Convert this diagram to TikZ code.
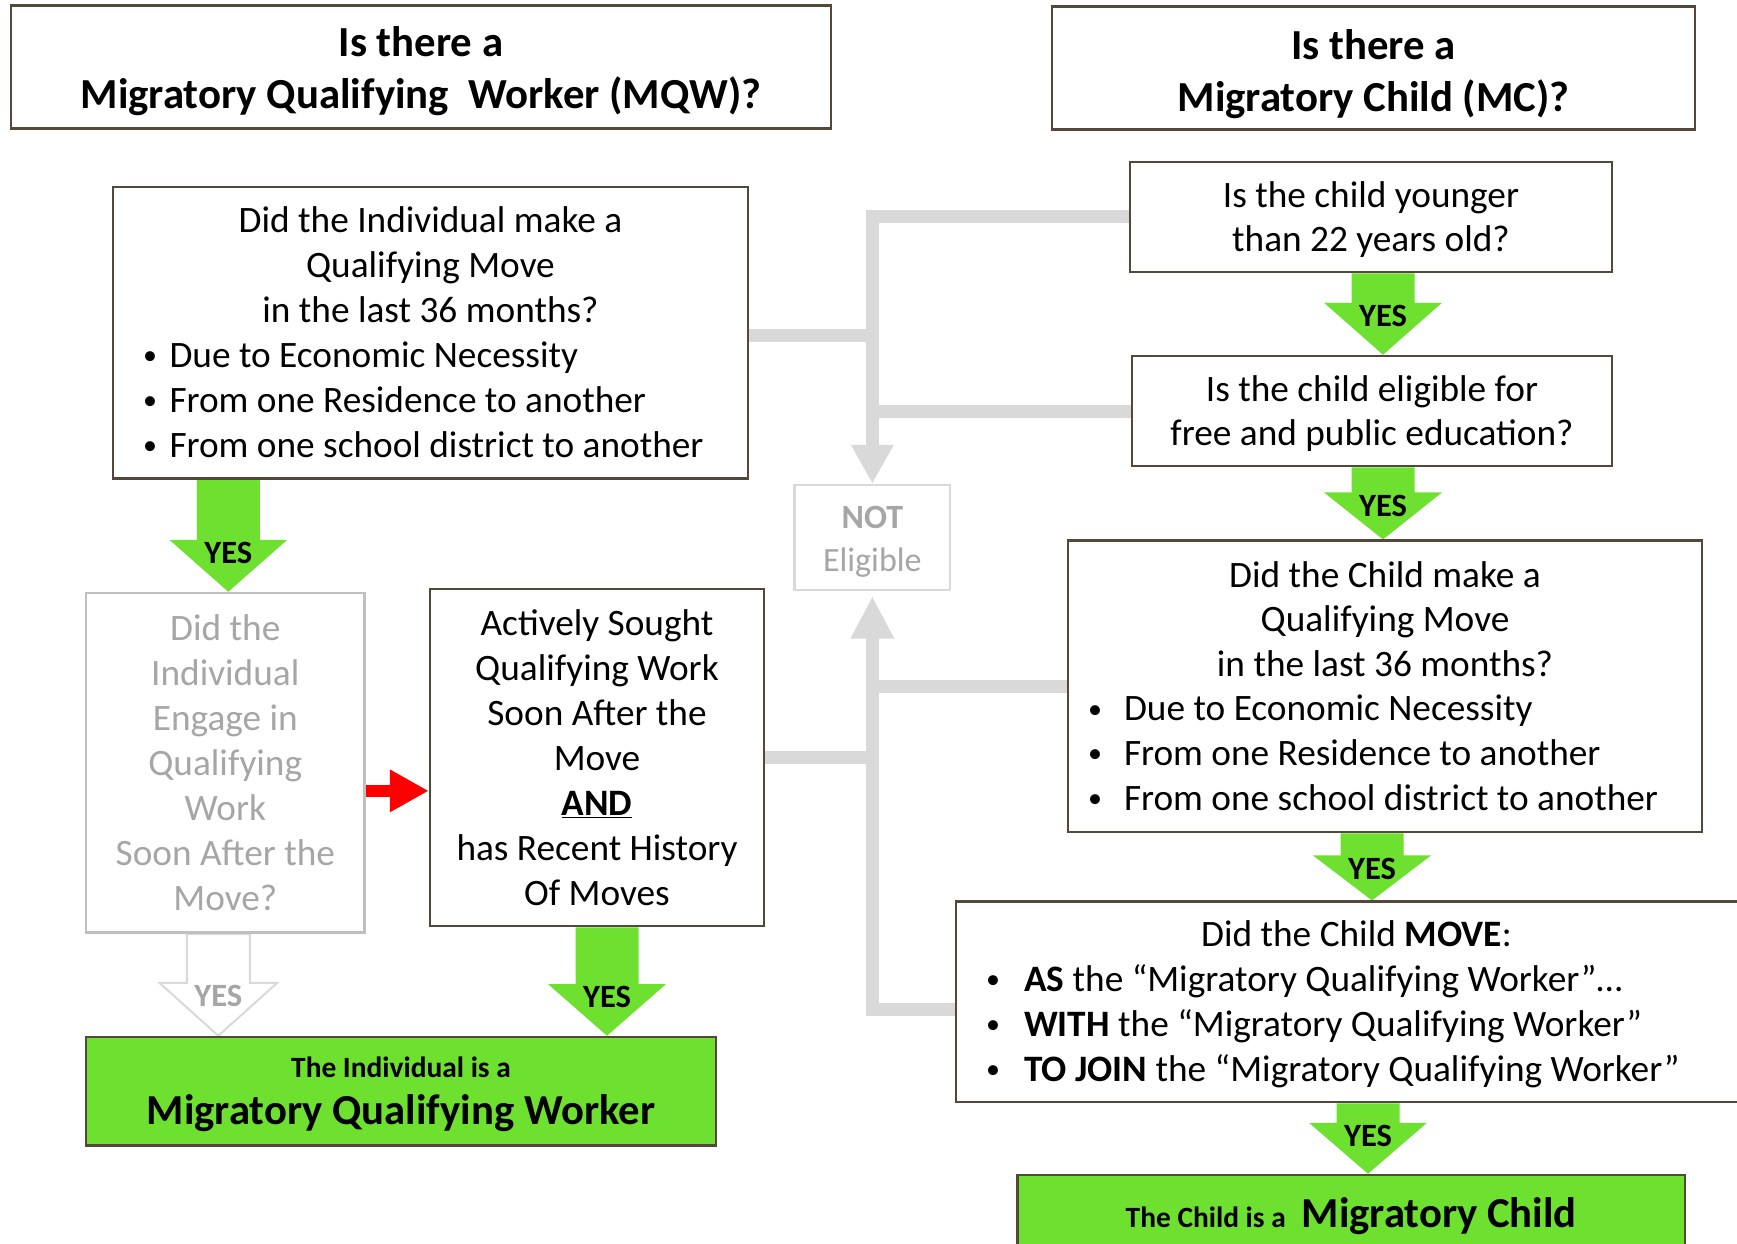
\documentclass[tikz,border=0pt]{standalone}
\usepackage{fontspec}
\setmainfont{Carlito}
\usetikzlibrary{calc,arrows.meta}
\definecolor{bord}{RGB}{84,72,58}
\definecolor{ygreen}{RGB}{110,224,48}
\definecolor{conn}{RGB}{217,217,217}
\definecolor{gtext}{RGB}{166,166,166}
\definecolor{gbord}{RGB}{191,191,191}
\definecolor{nbord}{RGB}{217,217,217}
\pgfdeclarelayer{paper}
\pgfdeclarelayer{bg}
\pgfsetlayers{paper,bg,main}
\newcommand\bitem[3]{\makebox[#1][l]{\hspace{#2}\raisebox{2.6pt}{\fontsize{28}{28}\selectfont •}}#3}
% #1 style, #2 start coord, #3 x offset, #4 end coord (y), #5 label name, #6 label style, #7 head length
\newcommand\yesarrow[7]{%
  \path[#1] let \p1=($(#2)+(#3,0)$), \p2=(#4) in
    (\x1-31.5pt,\y1) -- (\x1+31.5pt,\y1) -- (\x1+31.5pt,\y2+#7pt) -- (\x1+59pt,\y2+#7pt)
    -- (\x1,\y2) -- (\x1-59pt,\y2+#7pt) -- (\x1-31.5pt,\y2+#7pt) -- cycle
    (\x1,\y2+#7pt-13pt) node[#6] (#5) {YES};}
\begin{document}
\begin{tikzpicture}[x=1pt,y=-1pt,
  box/.style={draw=bord, line width=2.5pt, fill=white, rectangle, inner sep=0pt},
  txt/.style={inner sep=0pt, align=center},
  bodytxt/.style={font=\fontsize{37.3}{45}\selectfont},
  hdr/.style={font=\fontsize{42.8}{52}\selectfont\bfseries},
  conline/.style={draw=conn, line width=13pt},
  yeslbl/.style={font=\fontsize{32.5}{33}\selectfont\bfseries, inner sep=0pt},
  greenarr/.style={fill=ygreen},
  hollowarr/.style={draw=nbord, line width=2pt, fill=white},
  redarr/.style={draw=red, line width=12pt, -{Triangle[width=40pt,length=39pt]}}
]
\useasboundingbox (0,0) rectangle (1737,1243);
\begin{pgfonlayer}{paper}
\fill[white] (0,0) rectangle (1737,1243);
\end{pgfonlayer}
\clip (0,0) rectangle (1737,1243);

% ---- left column ----
\node[box,minimum width=820pt,minimum height=123pt] (h1) at (421,67) {};
\node[txt,hdr] (h1t) at ($(h1)+(0,4.4)$) {Is there a\\Migratory Qualifying\ \ Worker (MQW)?};

\node[box,minimum width=635pt,minimum height=291.5pt] (q1) at (430.5,332.75) {};
\node[txt,bodytxt] (q1t) at ($(q1)+(0,-0.5)$)
  {\begin{minipage}{567pt}\centering Did the Individual make a\\Qualifying Move\\in the last 36 months?\par
   \raggedright\bitem{22.5pt}{-4pt}{Due to Economic Necessity}\\
   \bitem{22.5pt}{-4pt}{From one Residence to another}\\
   \bitem{22.5pt}{-4pt}{From one school district to another}\end{minipage}};

\node[box,draw=gbord,minimum width=278.6pt,minimum height=339.7pt] (g1) at (225.3,762.85) {};
\node[txt,bodytxt,text=gtext] (g1t) at (g1)
  {Did the\\Individual\\Engage in\\Qualifying\\Work\\Soon After the\\Move?};

\node[box,minimum width=334pt,minimum height=337pt] (and) at (597,757.5) {};
\node[txt,bodytxt] (andt) at (and)
  {Actively Sought\\Qualifying Work\\Soon After the\\Move\\\underline{\textbf{AND}}\\has Recent History\\Of Moves};

\node[box,fill=ygreen,minimum width=630pt,minimum height=108.7pt] (r1) at (401,1091.35) {};
\node[txt,font=\bfseries] (r1t) at ($(r1)+(0,3)$)
  {\parbox{620pt}{\centering\fontsize{29.4}{35}\selectfont The Individual is a\par
   \fontsize{42.7}{47}\selectfont Migratory Qualifying Worker\par}};

% ---- middle ----
\node[box,draw=nbord,minimum width=155.3pt,minimum height=105pt] (ne) at (872.35,537.5) {};
\node[txt,text=gtext,font=\fontsize{34}{43}\selectfont] (net) at ($(ne)+(0,4.4)$) {\textbf{NOT}\\Eligible};

% ---- right column ----
\node[box,minimum width=643pt,minimum height=123pt] (h2) at (1373.5,68.1) {};
\node[txt,hdr] (h2t) at ($(h2)+(0,5.8)$) {Is there a\\Migratory Child (MC)?};

\node[box,minimum width=482pt,minimum height=110.2pt] (young) at (1371,216.9) {};
\node[txt,font=\fontsize{37.3}{44}\selectfont] (youngt) at ($(young)+(0,3)$)
  {Is the child younger\\than 22 years old?};

\node[box,minimum width=480pt,minimum height=110pt] (elig) at (1372,411) {};
\node[txt,font=\fontsize{37.3}{44}\selectfont] (eligt) at ($(elig)+(0,3)$)
  {Is the child eligible for\\free and public education?};

\node[box,minimum width=634pt,minimum height=291.3pt] (cqm) at (1385,686.35) {};
\node[txt,font=\fontsize{37.3}{44.6}\selectfont] (cqmt) at ($(cqm)+(0,-0.5)$)
  {\begin{minipage}{584pt}\centering Did the Child make a\\Qualifying Move\\in the last 36 months?\par
   \raggedright\bitem{31pt}{-5pt}{Due to Economic Necessity}\\
   \bitem{31pt}{-5pt}{From one Residence to another}\\
   \bitem{31pt}{-5pt}{From one school district to another}\end{minipage}};

\node[box,minimum width=801pt,minimum height=200.3pt] (cmove) at (1356.5,1001.85) {};
\node[txt,bodytxt] (cmovet) at ($(cmove)+(0,2.2)$)
  {\begin{minipage}{731pt}\centering Did the Child \textbf{MOVE}:\par
   \raggedright\bitem{33pt}{-5pt}{\textbf{AS} the “Migratory Qualifying Worker”…}\\
   \bitem{33pt}{-5pt}{\textbf{WITH} the “Migratory Qualifying Worker”}\\
   \bitem{33pt}{-5pt}{\textbf{TO JOIN} the “Migratory Qualifying Worker”}\end{minipage}};

\node[box,fill=ygreen,minimum width=667.5pt,minimum height=78pt] (r2) at (1351.25,1214) {};
\node[txt,font=\bfseries] (r2t) at ($(r2)+(0,2)$)
  {{\fontsize{29.4}{35}\selectfont The Child is a}\hspace{16pt}{\fontsize{42.7}{47}\selectfont Migratory Child}};

% ---- connectors ----
\begin{pgfonlayer}{bg}
\coordinate (c1) at ($(q1.east)+(0,3)$);
\coordinate (c2) at ($(cmove.west)+(0,8)$);
\coordinate (c3) at ($(g1.east)+(0,28)$);
\draw[conline,-{Triangle[width=40pt,length=39pt]}] (young.west) -| (ne.north);
\draw[conline] (c1) -- (c1 -| ne.north);
\draw[conline] (elig.west) -- (elig.west -| ne.north);
\draw[conline,-{Triangle[width=40.6pt,length=42.3pt]},shorten >=5pt] (c2) -| (ne.south);
\draw[conline] (cqm.west) -- (cqm.west -| ne.south);
\draw[conline] (and.east) -- (and.east -| ne.south);
\draw[redarr] (c3) -- (c3 -| and.west);

\yesarrow{greenarr}{q1.south -| g1.north}{3}{g1.north}{yes1}{yeslbl}{52}
\yesarrow{greenarr}{and.south}{10}{r1.north}{yes2}{yeslbl}{51.7}
\yesarrow{hollowarr}{g1.south}{-7}{r1.north}{yes3}{yeslbl,text=gtext}{53}
\yesarrow{greenarr}{young.south}{12}{elig.north}{yes4}{yeslbl}{52}
\yesarrow{greenarr}{elig.south}{11}{cqm.north}{yes5}{yeslbl}{47}
\yesarrow{greenarr}{cqm.south}{-13}{cmove.north}{yes6}{yeslbl}{45}
\yesarrow{greenarr}{cmove.south}{11.5}{r2.north}{yes7}{yeslbl}{51}
\end{pgfonlayer}
\end{tikzpicture}
\end{document}
